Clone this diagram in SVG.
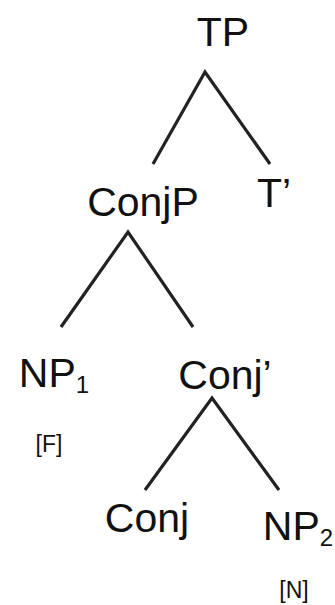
<svg xmlns="http://www.w3.org/2000/svg" width="335" height="605" viewBox="0 0 335 605">
<style>
.lbl{font-family:"Liberation Sans","Noto Sans",sans-serif;font-size:41px;fill:#111;text-anchor:middle}
.sub{font-size:24px}
.feat{font-family:"Liberation Sans","Noto Sans",sans-serif;font-size:23px;fill:#111;text-anchor:middle}
.edge{stroke:#222;stroke-width:3.2;fill:none;stroke-linejoin:miter}
</style>
<rect width="335" height="605" fill="#fff"/>
<g id="connectors">
<polyline class="edge" points="153,164 205,72 270,164"/>
<polyline class="edge" points="61,327 128,232 193,327"/>
<polyline class="edge" points="145,490 212,398 279,490"/>
</g>
<g id="TP"><text class="lbl" x="223" y="46">TP</text></g>
<g id="ConjP"><text class="lbl" x="143" y="216">ConjP</text></g>
<g id="Tbar"><text class="lbl" x="274" y="207">T’</text></g>
<g id="NP1"><text class="lbl" x="54" y="387">NP<tspan class="sub" dy="6">1</tspan></text></g>
<g id="F"><text class="feat" x="49" y="452">[F]</text></g>
<g id="Conjbar"><text class="lbl" x="225" y="389">Conj’</text></g>
<g id="Conj"><text class="lbl" x="147" y="532">Conj</text></g>
<g id="NP2"><text class="lbl" x="298" y="540">NP<tspan class="sub" dy="6">2</tspan></text></g>
<g id="N"><text class="feat" x="294" y="598">[N]</text></g>
</svg>
